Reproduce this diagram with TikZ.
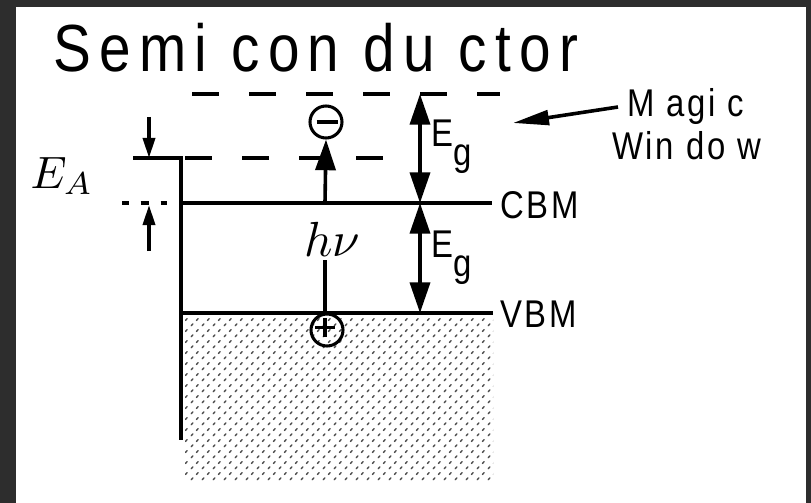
\documentclass[tikz,border=0pt]{standalone}
\usepackage{fontspec}
\usetikzlibrary{arrows.meta,patterns}
\newfontfamily\sansf[FakeStretch=0.85,LetterSpace=7]{Liberation Sans}
\newfontfamily\titlef[FakeStretch=0.85,LetterSpace=12.5]{Liberation Sans}
\definecolor{frame}{RGB}{45,45,45}
\pgfdeclarepatternformonly{speckle}{\pgfqpoint{0pt}{0pt}}{\pgfqpoint{8.4pt}{8.4pt}}{\pgfqpoint{8.4pt}{8.4pt}}{%
  \pgfsetlinewidth{1.1pt}\pgfsetroundcap
  \pgfpathmoveto{\pgfqpoint{1pt}{1pt}}\pgfpathlineto{\pgfqpoint{2.3pt}{2.5pt}}
  \pgfpathmoveto{\pgfqpoint{5.2pt}{5.2pt}}\pgfpathlineto{\pgfqpoint{6.5pt}{6.7pt}}
  \pgfusepath{stroke}}
\tikzset{
  band/.style={line width=2.7pt},
  vacdash/.style={line width=2.7pt, dash pattern=on 20.25pt off 22.5pt},
  bigtip/.style={-{Triangle[length=23pt,width=15pt]}},
  dbltip/.style={{Triangle[length=23pt,width=15pt]}-{Triangle[length=23pt,width=15pt]}},
  smalltip/.style={-{Triangle[length=15pt,width=9pt]}},
  carrier/.style={circle, draw, line width=2.3pt, minimum size=24pt, inner sep=0pt},
  lbl/.style={font=\sansf\fontsize{29}{29}\selectfont, inner sep=0pt},
}
\begin{document}
\begin{tikzpicture}[x=0.75pt,y=-0.75pt]
\useasboundingbox (0,0) rectangle (811,503);
\fill[frame] (0,0) rectangle (811,503);
\fill[white] (16,7) rectangle (806,503);
% shaded valence band
\fill[pattern=speckle, pattern color=black!70] (185,316) rectangle (493,482);
% coordinates
\coordinate (surfTop) at (181,158);
\coordinate (surfBot) at (181,440);
\coordinate (cbmL) at (181,203);
\coordinate (cbmR) at (492,203);
\coordinate (vbmL) at (181,313);
\coordinate (vbmR) at (493,313);
\coordinate (topL) at (192,94);
\coordinate (topR) at (500,94);
\coordinate (vacL) at (133,158);
\coordinate (vacDL) at (185,158);
\coordinate (vacR) at (392,158);
\coordinate (dotL) at (122,203);
\coordinate (dotR) at (172,203);
\coordinate (eaA) at (149,117);
\coordinate (eaB) at (149,158);
\coordinate (eaC) at (149,251);
\coordinate (eaD) at (149,205);
\coordinate (exc0) at (325,203);
\coordinate (hv0) at (325,260);
\coordinate (hv1) at (325,313);
\coordinate (eg1) at (420,94);
\coordinate (eg2) at (420,203);
\coordinate (eg3) at (420,313);
\coordinate (mwA) at (618,107);
\coordinate (mwB) at (513,123);
% lines
\draw[band] (vacL) -- (surfTop) -- (surfBot);
\draw[band] (cbmL) -- (cbmR);
\draw[band] (vbmL) -- (vbmR);
\draw[vacdash] (topL) -- (topR);
\draw[vacdash] (vacDL) -- (vacR);
\draw[line width=2.7pt, dash pattern=on 5pt off 9pt on 6pt off 9pt] (dotL) -- (dotR);
% E_A
\draw[band, smalltip] (eaA) -- (eaB);
\draw[band, smalltip] (eaC) -- (eaD);
\node[inner sep=0pt] (EA) at (62,176) {\scalebox{3.4}{$E_A$}};
% carriers
\node[carrier] (el) at (326,122) {};
\draw[line width=2.3pt] ([xshift=-7pt]el.center) -- ([xshift=9pt]el.center);
\node[carrier] (ho) at (327,330) {};
\draw[line width=2.3pt] ([xshift=-9pt,yshift=2pt]ho.center) -- ([xshift=6pt,yshift=2pt]ho.center);
\draw[line width=2.3pt] ([xshift=-1.5pt,yshift=9pt]ho.center) -- ([xshift=-1.5pt,yshift=-5pt]ho.center);
\draw[band, bigtip] (exc0) -- (el.south);
\node[inner sep=0pt] (hv) at (332,239) {\scalebox{3.7}{$h\nu$}};
\draw[band] (hv0) -- (hv1);
% band gaps
\draw[band, dbltip] (eg1) -- (eg2);
\draw[band, dbltip] (eg2) -- (eg3);
\node[lbl, anchor=west] (Eg1) at (431,147) {E\raisebox{-0.5em}{g}};
\node[lbl, anchor=west] (Eg2) at (431,258) {E\raisebox{-0.5em}{g}};
\node[lbl, anchor=west] (CBM) at (500,205) {CBM};
\node[lbl, anchor=west] (VBM) at (500,314) {VBM};
% magic window
\node[lbl, anchor=base west] (MW1) at (627,117) {M agi c};
\node[lbl, anchor=base west] (MW2) at (612,160) {Win do w};
\draw[line width=2.7pt, -{Triangle[length=27pt,width=11pt]}] (mwA) -- (mwB);
% title
\node[anchor=base west, inner sep=0pt, font=\titlef\fontsize{50}{50}\selectfont] (title) at (53,72) {Semi con du ctor};
\end{tikzpicture}
\end{document}
